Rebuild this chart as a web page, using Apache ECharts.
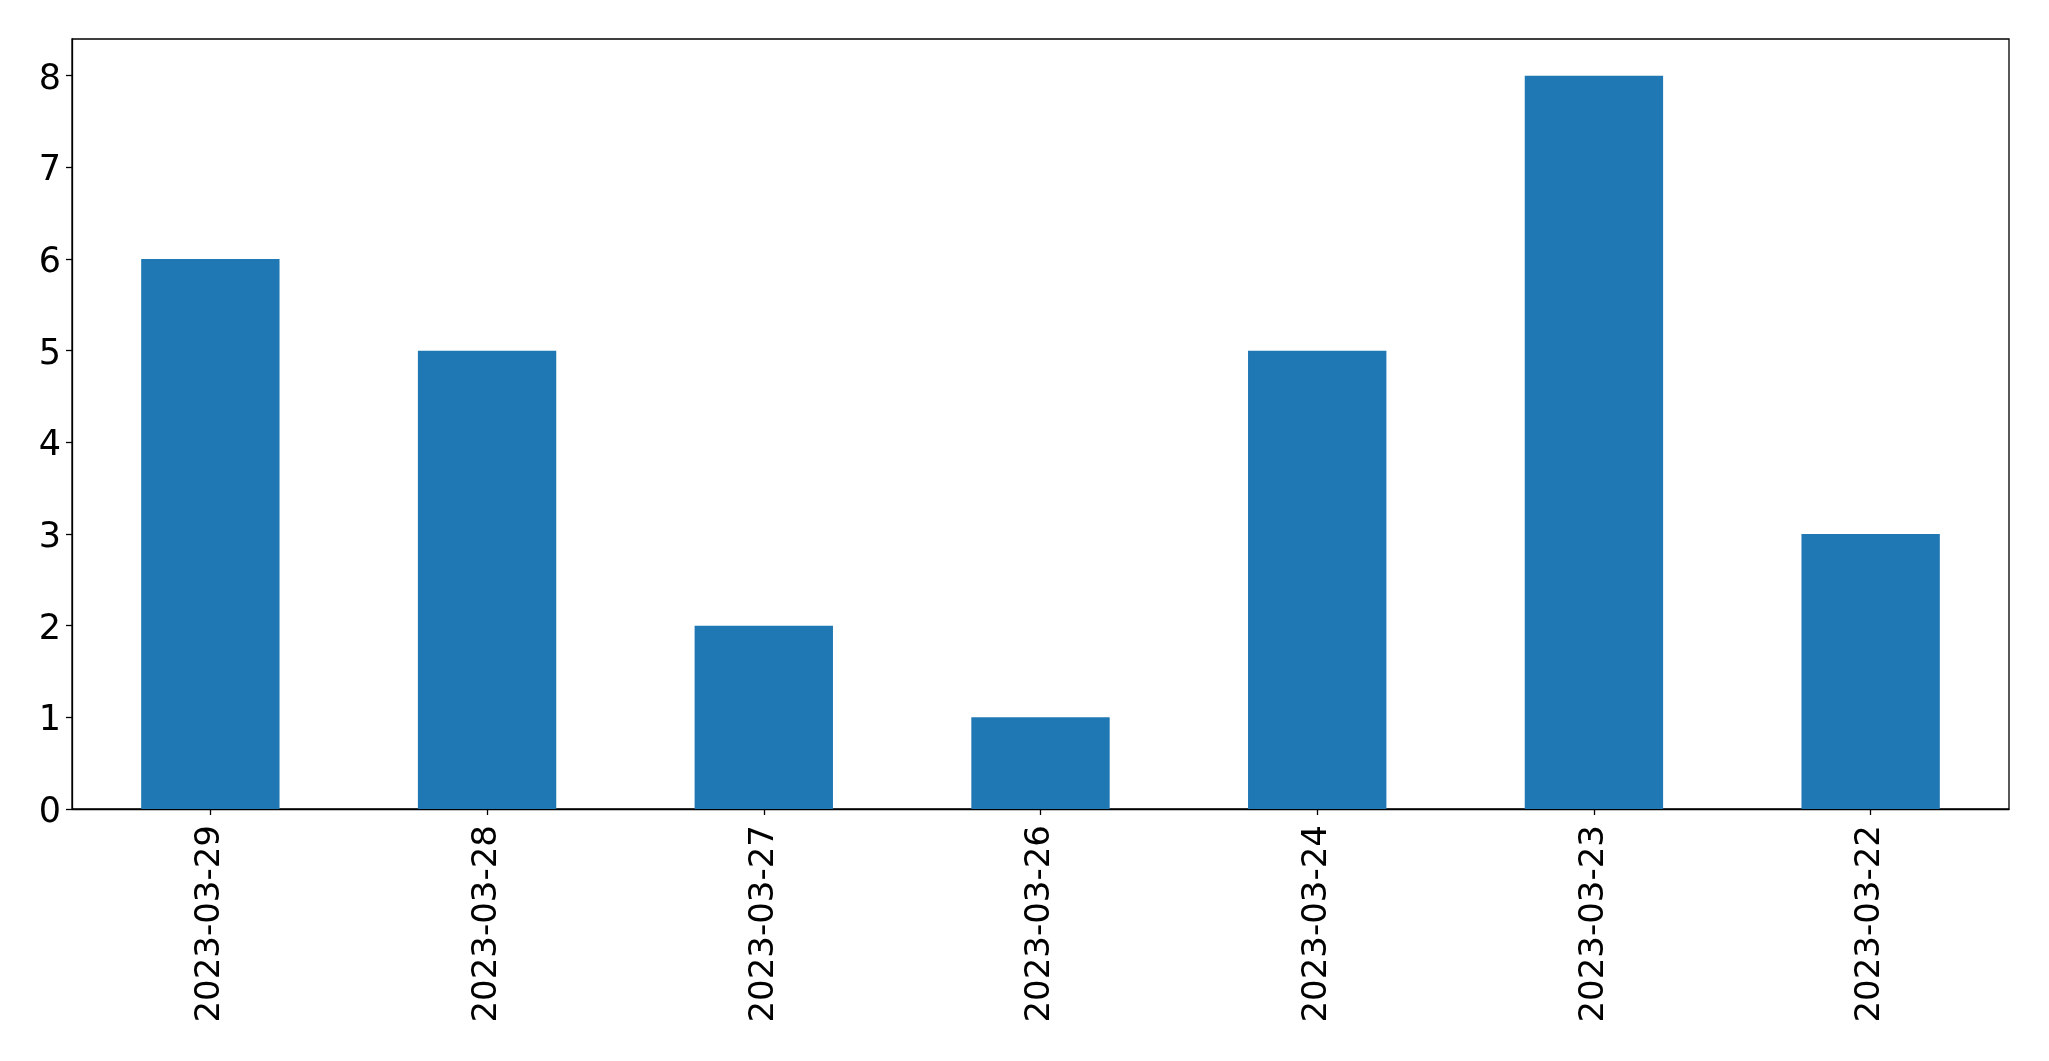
<!DOCTYPE html>
<html>
<head>
<meta charset="utf-8">
<script src="https://cdn.jsdelivr.net/npm/echarts@6/dist/echarts.min.js"></script>
<style>
html,body{margin:0;padding:0;background:#fff;}
#chart{width:2049px;height:1061px;}
</style>
</head>
<body>
<div id="chart"></div>
<script>
const categories = ["2023-03-29","2023-03-28","2023-03-27","2023-03-26","2023-03-24","2023-03-23","2023-03-22"];
const values = [6, 5, 2, 1, 5, 8, 3];
const yTicks = [0,1,2,3,4,5,6,7,8];

const chart = echarts.init(document.getElementById('chart'), null, {renderer:'canvas'});
const font = 'DejaVu Sans';
chart.setOption({
  animation: false,
  backgroundColor: '#ffffff',
  grid: {left: 72, right: 40, top: 39, bottom: 252, containLabel: false, show: true, borderColor: '#000', borderWidth: 1.3, backgroundColor: 'transparent'},
  xAxis: {
    type: 'category',
    data: categories,
    boundaryGap: true,
    axisLine: {show: true, lineStyle: {color: '#000', width: 1.3}},
    axisTick: {show: true, alignWithLabel: true, length: 6, lineStyle: {color: '#000', width: 1.3}},
    axisLabel: {rotate: 90, fontFamily: font, fontSize: 34, color: '#000', margin: 16, interval: 0},
    splitLine: {show: false}
  },
  yAxis: {
    type: 'value',
    min: 0, max: 8.4,
    axisLine: {show: true, lineStyle: {color: '#000', width: 1.3}},
    axisTick: {show: true, length: 6, customValues: yTicks, lineStyle: {color: '#000', width: 1.3}},
    axisLabel: {fontFamily: font, fontSize: 35, color: '#000', margin: 11, customValues: yTicks,
      formatter: function(v){ return '{a|' + v + '}'; },
      rich: {a: {fontFamily: font, fontSize: 35, color: '#000', padding: [8, 0, 0, 0]}}},
    splitLine: {show: false}
  },
  series: [{
    type: 'bar',
    data: values,
    barWidth: '50%',
    itemStyle: {color: '#1f77b4'}
  }]
});
</script>
</body>
</html>
